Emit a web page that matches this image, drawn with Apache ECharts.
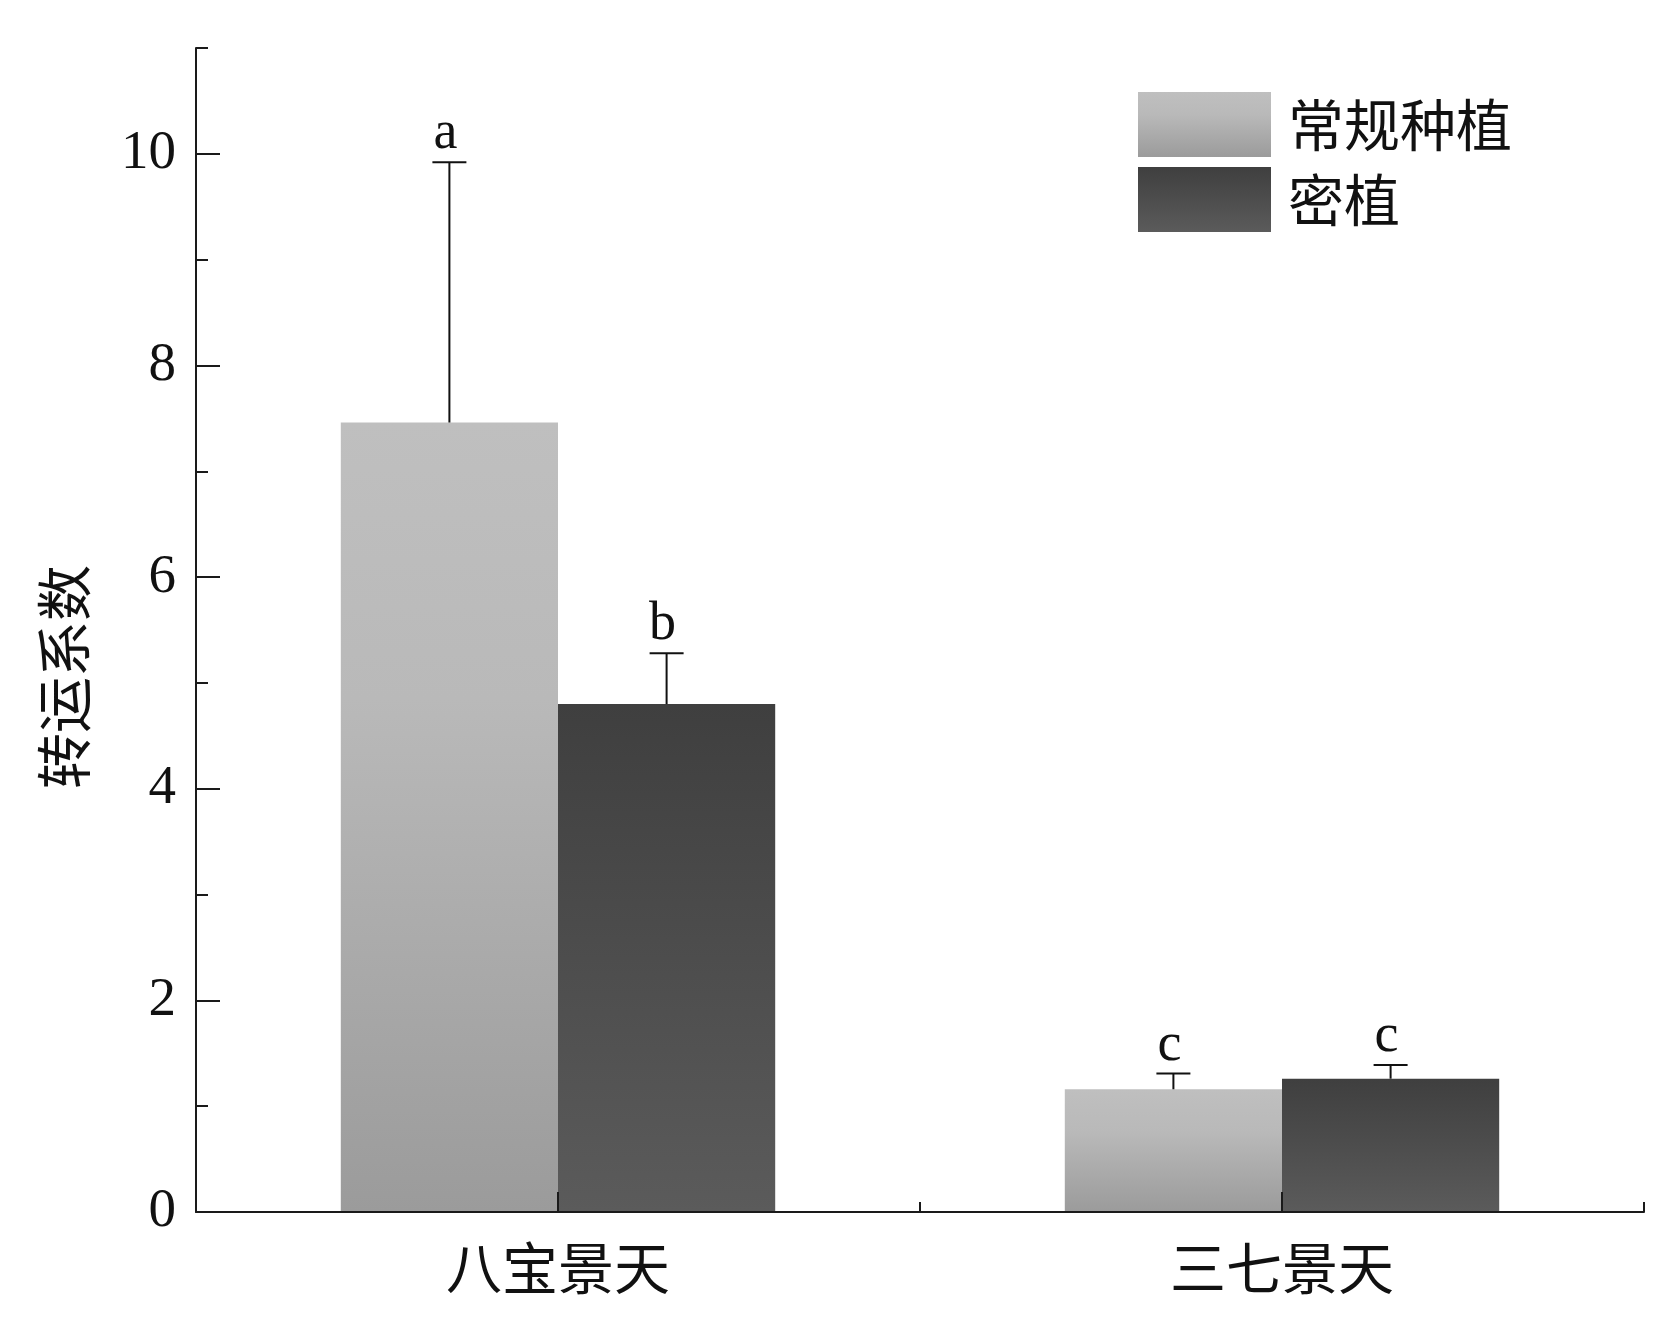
<!DOCTYPE html>
<html><head><meta charset="utf-8">
<script src="https://cdn.jsdelivr.net/npm/echarts@6/dist/echarts.min.js"></script>
<style>html,body{margin:0;padding:0;background:#fff}#c{width:1680px;height:1326px}</style>
</head><body><div id="c"></div>
<script>
const categories = ['八宝景天', '三七景天'];
const seriesNames = ['常规种植', '密植'];
const conventional = [7.46, 1.16];
const conventionalErr = [2.46, 0.15];
const conventionalSig = ['a', 'c'];
const dense = [4.80, 1.26];
const denseErr = [0.48, 0.13];
const denseSig = ['b', 'c'];
const yMajorTicks = [0, 2, 4, 6, 8, 10];
const yMinorTicks = [1, 3, 5, 7, 9, 11];

const CJK = '"Noto Sans CJK SC", "Noto Sans", sans-serif';
const SERIF = '"Liberation Serif", "DejaVu Serif", serif';
const INK = '#111111';

function grad(stops) {
  return new echarts.graphic.LinearGradient(0, 0, 0, 1, stops);
}
const lightGrad = grad([{offset: 0, color: '#bfbfbf'}, {offset: 0.35, color: '#b9b9b9'}, {offset: 1, color: '#9b9b9b'}]);
const darkGrad = grad([{offset: 0, color: '#3f3f3f'}, {offset: 1, color: '#5b5b5b'}]);

function errSeries(values, errs, sigs, side) {
  return {
    type: 'custom',
    z: 4,
    silent: true,
    data: values.map((v, i) => [i, v, v + errs[i], sigs[i]]),
    renderItem: function (params, api) {
      const idx = api.value(0);
      const base = api.coord([idx, api.value(1)]);
      const top = api.coord([idx, api.value(2)]);
      const band = api.size([1, 0])[0];
      const bw = band * 0.3;
      const x = base[0] + side * bw / 2;
      const cap = 17;
      return {
        type: 'group',
        children: [
          {type: 'line', shape: {x1: x, y1: base[1], x2: x, y2: top[1]}, style: {stroke: INK, lineWidth: 2}},
          {type: 'line', shape: {x1: x - cap, y1: top[1], x2: x + cap, y2: top[1]}, style: {stroke: INK, lineWidth: 2}},
          {type: 'text', style: {text: api.value(3), x: x - 4, y: top[1] - 1, align: 'center', verticalAlign: 'bottom', font: '54px ' + SERIF, fill: INK}}
        ]
      };
    }
  };
}

const chart = echarts.init(document.getElementById('c'), null, {renderer: 'canvas'});
chart.setOption({
  backgroundColor: '#ffffff',
  animation: false,
  grid: {left: 196, right: 36, top: 48, bottom: 114, containLabel: false},
  legend: {
    data: seriesNames,
    orient: 'vertical',
    left: 1133,
    top: 87,
    itemWidth: 133,
    itemHeight: 65,
    itemGap: 10,
    icon: 'rect',
    textStyle: {fontSize: 56, fontFamily: CJK, color: INK, padding: [0, 0, 0, 12]}
  },
  xAxis: [
    {
      type: 'category',
      data: categories,
      z: 5,
      axisLine: {lineStyle: {color: '#1a1a1a', width: 2}},
      axisTick: {show: true, inside: true, length: 10, alignWithLabel: false, lineStyle: {color: '#1a1a1a', width: 2}},
      axisLabel: {fontSize: 56, fontFamily: CJK, color: INK, margin: 28},
      splitLine: {show: false}
    },
    {
      type: 'category',
      data: categories,
      position: 'bottom',
      z: 5,
      axisLine: {show: false},
      axisTick: {show: true, inside: true, length: 20, alignWithLabel: true, lineStyle: {color: '#1a1a1a', width: 2}},
      axisLabel: {show: false},
      splitLine: {show: false}
    }
  ],
  yAxis: [
    {
      type: 'value',
      min: 0,
      max: 11,
      interval: 1,
      z: 5,
      name: '转运系数',
      nameLocation: 'middle',
      nameRotate: 90,
      nameGap: 104,
      nameTextStyle: {fontSize: 56, fontFamily: CJK, color: INK, padding: [0, 94, 0, 0]},
      axisLine: {show: true, lineStyle: {color: '#1a1a1a', width: 2}},
      axisTick: {show: true, inside: true, length: 24, customValues: yMajorTicks, lineStyle: {color: '#1a1a1a', width: 2}},
      axisLabel: {fontSize: 55, fontFamily: SERIF, color: INK, margin: 20, customValues: yMajorTicks},
      splitLine: {show: false}
    },
    {
      type: 'value',
      min: 0,
      max: 11,
      interval: 1,
      position: 'left',
      offset: 0,
      z: 5,
      axisLine: {show: false},
      axisTick: {show: true, inside: true, length: 12, customValues: yMinorTicks, lineStyle: {color: '#1a1a1a', width: 2}},
      axisLabel: {show: false},
      splitLine: {show: false}
    }
  ],
  series: [
    {name: seriesNames[0], type: 'bar', data: conventional, barGap: '0%', barCategoryGap: '40%', itemStyle: {color: lightGrad}, z: 2},
    {name: seriesNames[1], type: 'bar', data: dense, barGap: '0%', barCategoryGap: '40%', itemStyle: {color: darkGrad}, z: 2},
    errSeries(conventional, conventionalErr, conventionalSig, -1),
    errSeries(dense, denseErr, denseSig, 1)
  ]
});
</script>
</body></html>
